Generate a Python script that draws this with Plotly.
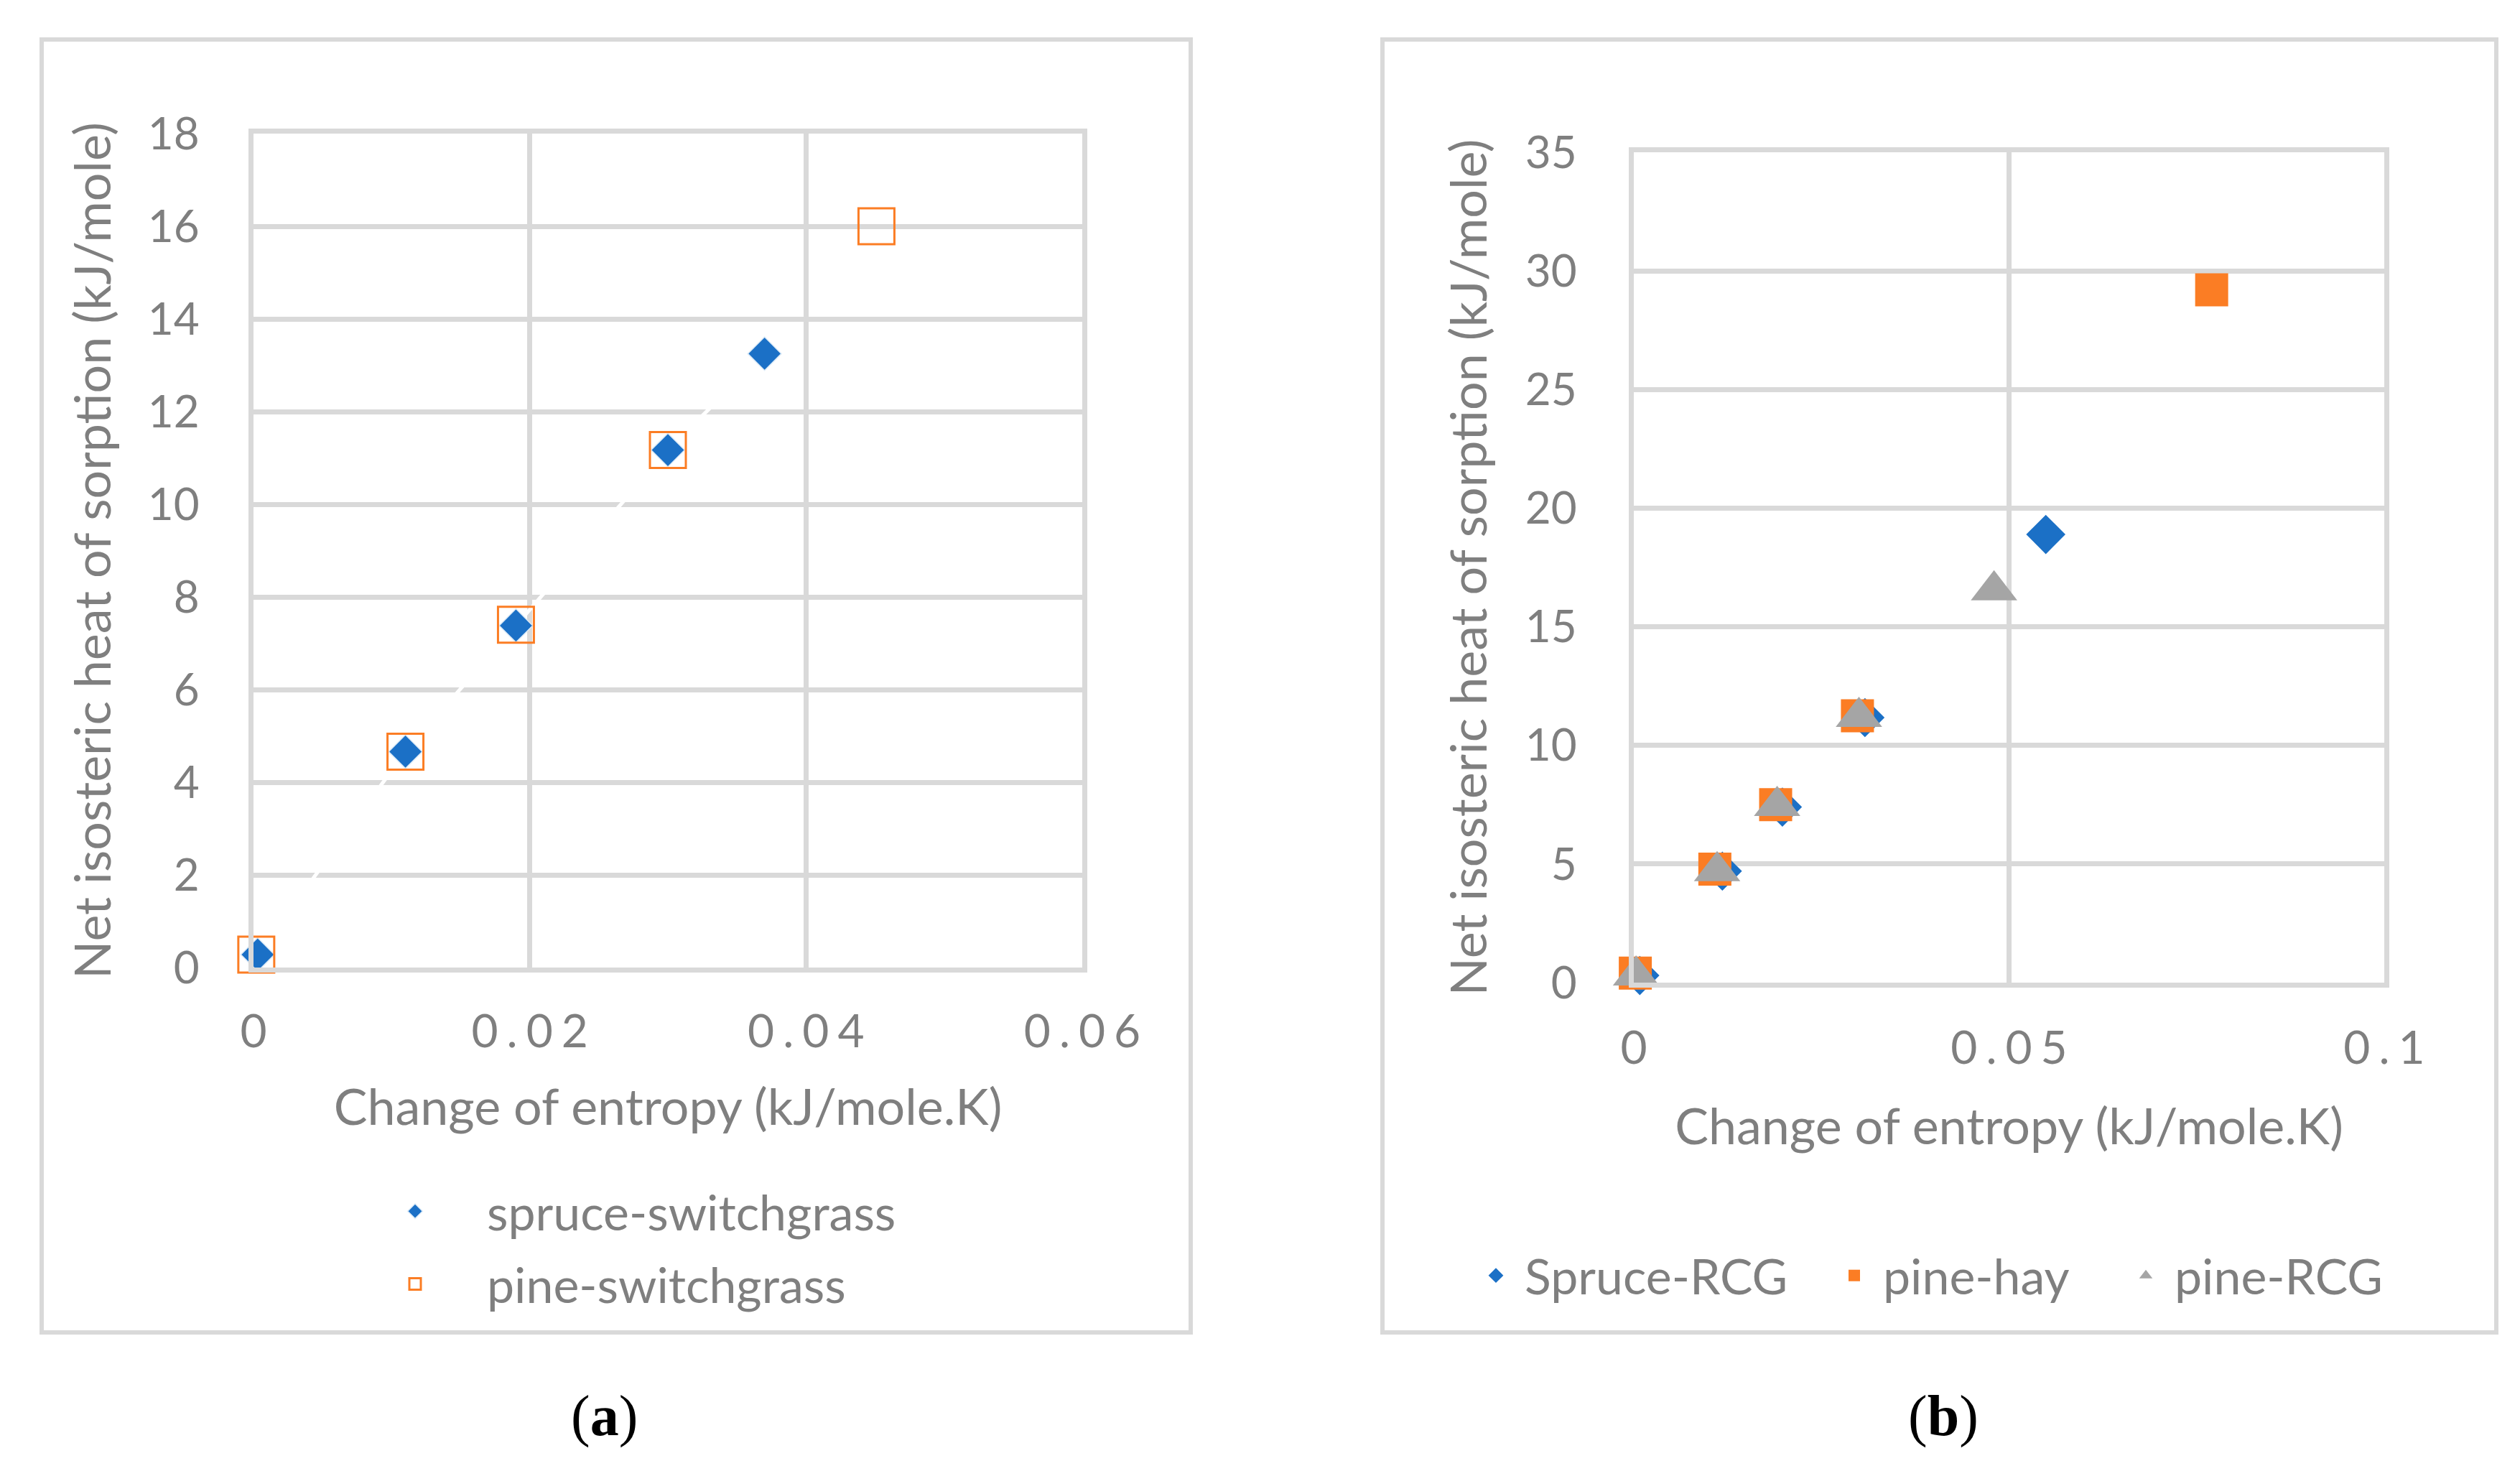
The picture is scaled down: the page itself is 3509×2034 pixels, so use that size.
import plotly.graph_objects as go

# ---------------- data: panel (a) ----------------
spruce_sw_x = [0.0003, 0.0110, 0.0190, 0.0300, 0.0370]
spruce_sw_y = [0.28, 4.66, 7.38, 11.17, 13.25]
pine_sw_x = [0.0002, 0.0110, 0.0190, 0.0300, 0.0451]
pine_sw_y = [0.28, 4.66, 7.40, 11.17, 16.00]

# ---------------- data: panel (b) ----------------
spruce_rcg_x = [0.0008, 0.0118, 0.0198, 0.0308, 0.0549]
spruce_rcg_y = [0.30, 4.70, 7.40, 11.17, 18.89]
pine_hay_x = [0.0002, 0.0108, 0.0189, 0.0298, 0.0770]
pine_hay_y = [0.40, 4.78, 7.50, 11.25, 29.20]
pine_rcg_x = [0.0003, 0.0111, 0.0191, 0.0300, 0.0480]
pine_rcg_y = [0.30, 4.70, 7.45, 11.20, 16.54]

# ---------------- ticks ----------------
a_xticks = [0, 0.02, 0.04, 0.06]
a_xlabels = ["0", "0.02", "0.04", "0.06"]
a_yticks = [0, 2, 4, 6, 8, 10, 12, 14, 16, 18]
b_xticks = [0, 0.05, 0.1]
b_xlabels = ["0", "0.05", "0.1"]
b_yticks = [0, 5, 10, 15, 20, 25, 30, 35]

x_title = "Change of entropy (kJ/mole.K)"
y_title = "Net isosteric heat of sorption (kJ/mole)"

W, H = 3509, 2034
BLUE = "#1B70C6"
ORANGE = "#FB7D24"
GRAY = "#A5A5A5"
GRID = "#D9D9D9"
TXT = "#7F7F7F"
FONT = "Lato"
FS_TICK = 62
FS_XTICK = 64
FS_TITLE = 70
FS_LEG = 68
GAP = "\u2009\u200a"


def spaced(s):
    return GAP.join(list(s))


def px_x(v):
    return v / W


def px_y(v):
    return 1 - v / H


fig = go.Figure()

# panel (a)
fig.add_trace(go.Scatter(
    x=spruce_sw_x, y=spruce_sw_y, mode="lines+markers", name="spruce-switchgrass",
    line=dict(color="white", width=5),
    marker=dict(symbol="diamond", size=36, color=BLUE, line=dict(color="#DDEBF7", width=1.5)),
    xaxis="x", yaxis="y", legend="legend", legendgroup="a1", cliponaxis=False))
fig.add_trace(go.Scatter(
    x=pine_sw_x, y=pine_sw_y, mode="markers", name="pine-switchgrass",
    marker=dict(symbol="square-open", size=50, color=ORANGE, line=dict(color=ORANGE, width=3)),
    xaxis="x", yaxis="y", legend="legend", legendgroup="a2", cliponaxis=False))

# panel (b)
fig.add_trace(go.Scatter(
    x=spruce_rcg_x, y=spruce_rcg_y, mode="markers", name="Spruce-RCG",
    marker=dict(symbol="diamond", size=42, color=BLUE),
    xaxis="x2", yaxis="y2", legend="legend2", cliponaxis=False))
fig.add_trace(go.Scatter(
    x=pine_hay_x, y=pine_hay_y, mode="markers", name="pine-hay",
    marker=dict(symbol="square", size=46, color=ORANGE),
    xaxis="x2", yaxis="y2", legend="legend3", cliponaxis=False))
fig.add_trace(go.Scatter(
    x=pine_rcg_x, y=pine_rcg_y, mode="markers", name="pine-RCG",
    marker=dict(symbol="triangle-up", size=56, color=GRAY),
    xaxis="x2", yaxis="y2", legend="legend4", cliponaxis=False))

axis_common = dict(
    showgrid=True, gridcolor=GRID, gridwidth=7, zeroline=False,
    showline=True, mirror=True, linecolor=GRID, linewidth=7,
    ticks="", automargin=False,
    title_font=dict(family=FONT, size=FS_TITLE, color=TXT),
)
xtickfont = dict(family=FONT, size=FS_XTICK, color=TXT)
ytickfont = dict(family=FONT, size=FS_TICK, color=TXT)

leg_common = dict(xanchor="left", yanchor="middle", bgcolor="rgba(0,0,0,0)",
                  font=dict(family=FONT, size=FS_LEG, color=TXT))

fig.update_layout(
    width=W, height=H,
    margin=dict(l=0, r=0, t=0, b=0, pad=0, autoexpand=False),
    paper_bgcolor="white", plot_bgcolor="white",
    font=dict(family=FONT, size=FS_TICK, color=TXT),
    xaxis=dict(domain=[px_x(345), px_x(1499)], range=[0, 0.06], anchor="y",
               tickvals=a_xticks, ticktext=[spaced(t) for t in a_xlabels],
               ticklabelstandoff=27, tickfont=xtickfont,
               title=dict(text=x_title, standoff=49), **axis_common),
    yaxis=dict(domain=[px_y(1339), px_y(178)], range=[0, 18], anchor="x",
               tickvals=a_yticks, ticklabelstandoff=56, tickfont=ytickfont,
               title=dict(text=y_title, standoff=31), **axis_common),
    xaxis2=dict(domain=[px_x(2267), px_x(3312)], range=[0, 0.1], anchor="y2",
                tickvals=b_xticks, ticktext=[spaced(t) for t in b_xlabels],
                ticklabelstandoff=29, tickfont=xtickfont,
                title=dict(text=x_title, standoff=53), **axis_common),
    yaxis2=dict(domain=[px_y(1360), px_y(204)], range=[0, 35], anchor="x2",
                tickvals=b_yticks, ticklabelstandoff=60, tickfont=ytickfont,
                title=dict(text=y_title, standoff=33), **axis_common),
    legend=dict(orientation="v", x=px_x(470), y=px_y(1729), itemwidth=190,
                tracegroupgap=10, **leg_common),
    legend2=dict(orientation="h", x=px_x(2035), y=px_y(1768), itemwidth=70, **leg_common),
    legend3=dict(orientation="h", x=px_x(2534), y=px_y(1768), itemwidth=70, **leg_common),
    legend4=dict(orientation="h", x=px_x(2940), y=px_y(1768), itemwidth=70, **leg_common),
    shapes=[
        dict(type="rect", xref="paper", yref="paper", x0=px_x(50), x1=px_x(1650),
             y0=px_y(1847), y1=px_y(47), line=dict(color=GRID, width=6), layer="below"),
        dict(type="rect", xref="paper", yref="paper", x0=px_x(1917), x1=px_x(3468),
             y0=px_y(1847), y1=px_y(47), line=dict(color=GRID, width=6), layer="below"),
    ],
    annotations=[
        dict(text="(<b>a</b>)", xref="paper", yref="paper", x=px_x(833), y=px_y(1963),
             xanchor="center", yanchor="middle", showarrow=False,
             font=dict(family="Liberation Serif", size=80, color="black")),
        dict(text="(<b>b</b>)", xref="paper", yref="paper", x=px_x(2698), y=px_y(1963),
             xanchor="center", yanchor="middle", showarrow=False,
             font=dict(family="Liberation Serif", size=80, color="black")),
    ],
)

fig.write_html("out.html")
